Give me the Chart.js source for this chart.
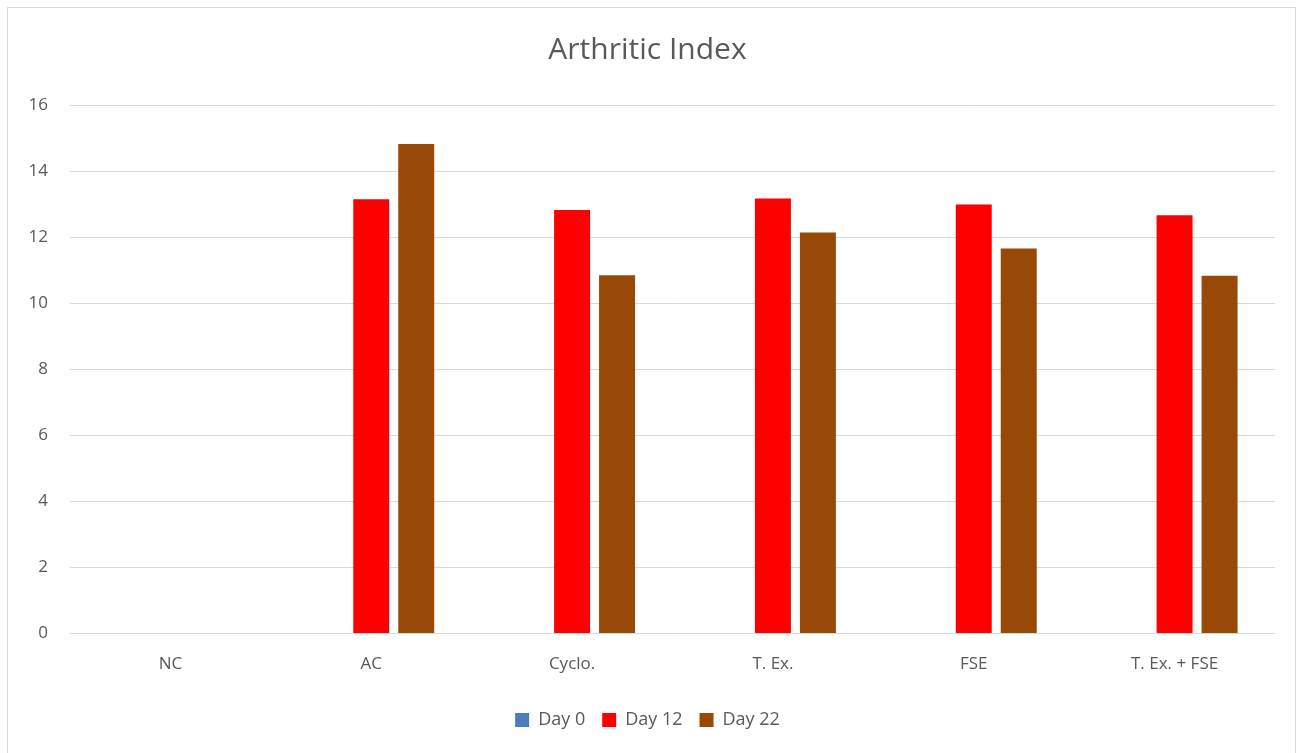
<!DOCTYPE html>
<html>
<head>
<meta charset="utf-8">
<script src="https://cdn.jsdelivr.net/npm/chart.js@4"></script>
<style>
  body { margin: 0; background: #fff; }
  #wrap { position: relative; width: 1305px; height: 753px; }
  #frame { position: absolute; left: 7px; top: 7px; width: 1289px; height: 750px; border: 1px solid #d9d9d9; box-sizing: border-box; }
  canvas { position: absolute; left: 0; top: 0; }
</style>
</head>
<body>
<div id="wrap">
  <div id="frame"></div>
  <canvas id="chart" width="1305" height="753"></canvas>
</div>
<script>
const categories = ['NC', 'AC', 'Cyclo.', 'T. Ex.', 'FSE', 'T. Ex. + FSE']
const day0 = [0, 0, 0, 0, 0, 0]
const day12 = [0, 13.15, 12.82, 13.17, 12.99, 12.66]
const day22 = [0, 14.82, 10.85, 12.14, 11.66, 10.83]
const yTicks = [0, 2, 4, 6, 8, 10, 12, 14, 16]

const textColor = '#595959'
const fontFamily = "'Open Sans', 'Noto Sans', sans-serif"

const ctx = document.querySelector('#chart')

new Chart(ctx, {
  type: 'bar',
  data: {
    labels: categories,
    datasets: [
      { label: 'Day 0', data: day0, backgroundColor: '#4a7ebb' },
      { label: 'Day 12', data: day12, backgroundColor: '#ff0000' },
      { label: 'Day 22', data: day22, backgroundColor: '#984807' }
    ]
  },
  options: {
    responsive: false,
    animation: false,
    categoryPercentage: 0.672,
    barPercentage: 0.8,
    layout: {
      padding: { left: 20, right: 30, top: 10, bottom: 14 }
    },
    scales: {
      x: {
        grid: { display: false, drawTicks: false },
        border: { display: false },
        ticks: {
          color: textColor,
          font: { family: fontFamily, size: 17 },
          padding: 20
        }
      },
      y: {
        min: 0,
        max: 16,
        afterBuildTicks: scale => { scale.ticks = yTicks.map(v => ({ value: v })) },
        afterFit: scale => { scale.width = 50 },
        grid: { color: '#d9d9d9', lineWidth: 1, drawTicks: false },
        border: { display: false },
        ticks: {
          color: textColor,
          font: { family: fontFamily, size: 17 },
          padding: 22
        }
      }
    },
    plugins: {
      title: {
        display: true,
        text: 'Arthritic Index',
        color: textColor,
        font: { family: fontFamily, size: 30, weight: 'normal' },
        padding: { top: 22, bottom: 37 }
      },
      legend: {
        position: 'bottom',
        labels: {
          color: textColor,
          font: { family: fontFamily, size: 18 },
          boxWidth: 14,
          boxHeight: 14,
          padding: 17
        }
      },
      tooltip: { enabled: false }
    }
  }
})
</script>
</body>
</html>
